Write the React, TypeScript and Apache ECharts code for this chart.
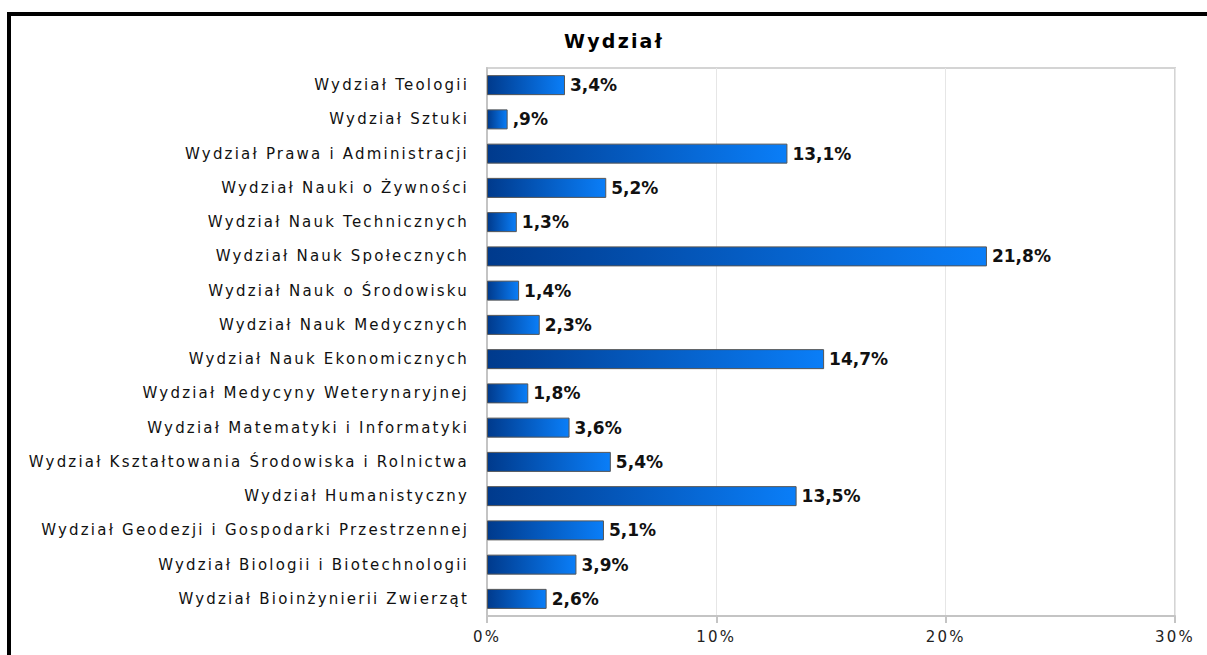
import React, { useEffect, useRef } from "react";
import * as echarts from "echarts";

const titleText = "Wydział";
const categories = [
  "Wydział Teologii",
  "Wydział Sztuki",
  "Wydział Prawa i Administracji",
  "Wydział Nauki o Żywności",
  "Wydział Nauk Technicznych",
  "Wydział Nauk Społecznych",
  "Wydział Nauk o Środowisku",
  "Wydział Nauk Medycznych",
  "Wydział Nauk Ekonomicznych",
  "Wydział Medycyny Weterynaryjnej",
  "Wydział Matematyki i Informatyki",
  "Wydział Kształtowania Środowiska i Rolnictwa",
  "Wydział Humanistyczny",
  "Wydział Geodezji i Gospodarki Przestrzennej",
  "Wydział Biologii i Biotechnologii",
  "Wydział Bioinżynierii Zwierząt",
];
const values = [3.4, 0.9, 13.1, 5.2, 1.3, 21.8, 1.4, 2.3, 14.7, 1.8, 3.6, 5.4, 13.5, 5.1, 3.9, 2.6];
const axisMin = 0;
const axisMax = 30;
const axisInterval = 10;

function fmtPct(v: number): string {
  const s = v.toFixed(1).replace(".", ",");
  return (s.startsWith("0,") ? s.slice(1) : s) + "%";
}

const css = `
.wchart text { letter-spacing: 2.2px; }
.wchart text[style*="Verdana"] { letter-spacing: 0px; }
`;

export default function App() {
  const ref = useRef<HTMLDivElement>(null);
  useEffect(() => {
    if (!ref.current) return;
    const chart = echarts.init(ref.current, null, { renderer: "svg" });
    const font = "DejaVu Sans";
    chart.setOption({
      animation: false,
      backgroundColor: "#ffffff",
      title: {
        text: titleText,
        left: 614,
        textAlign: "center",
        top: 31,
        padding: 0,
        textStyle: { fontFamily: font, fontSize: 19, fontWeight: "bold", color: "#000" },
      },
      graphic: [
        {
          type: "rect",
          shape: { x: 9, y: 14, width: 1400, height: 900 },
          style: { fill: "none", stroke: "#000", lineWidth: 4 },
          silent: true,
        },
      ],
      grid: { left: 487, right: 32, top: 68, bottom: 39, containLabel: false, show: true, borderColor: "#d4d4d4", borderWidth: 2 },
      xAxis: {
        type: "value",
        min: axisMin,
        max: axisMax,
        interval: axisInterval,
        axisLine: { show: true, lineStyle: { color: "#c4c4c4", width: 2 } },
        axisTick: { show: true, length: 7, lineStyle: { color: "#c4c4c4", width: 2 } },
        splitLine: { show: true, lineStyle: { color: "#e6e6e6", width: 1 } },
        axisLabel: {
          fontFamily: font,
          fontSize: 15,
          color: "#222",
          margin: 13,
          formatter: (v: number) => v + "%",
        },
      },
      yAxis: {
        type: "category",
        inverse: true,
        data: categories,
        axisLine: { show: true, lineStyle: { color: "#c4c4c4", width: 2 } },
        axisTick: { show: false },
        axisLabel: { fontFamily: font, fontSize: 15, color: "#111", margin: 18 },
      },
      series: [
        {
          type: "bar",
          data: values,
          barWidth: 20,
          itemStyle: {
            color: new echarts.graphic.LinearGradient(0, 0, 1, 0, [
              { offset: 0, color: "#003a8c" },
              { offset: 1, color: "#0a7ef8" },
            ]),
            borderColor: "#555555",
            borderWidth: 1,
          },
          label: {
            show: true,
            position: "right",
            distance: 5,
            fontFamily: "DejaVu Sans, Verdana",
            fontSize: 17,
            fontWeight: "bold",
            color: "#111",
            formatter: (p: any) => fmtPct(p.value),
          },
        },
      ],
    });
    return () => chart.dispose();
  }, []);
  return (
    <>
      <style>{css}</style>
      <div ref={ref} className="wchart" style={{ position: "absolute", left: 0, top: 0, width: 1207, height: 655 }} />
    </>
  );
}
